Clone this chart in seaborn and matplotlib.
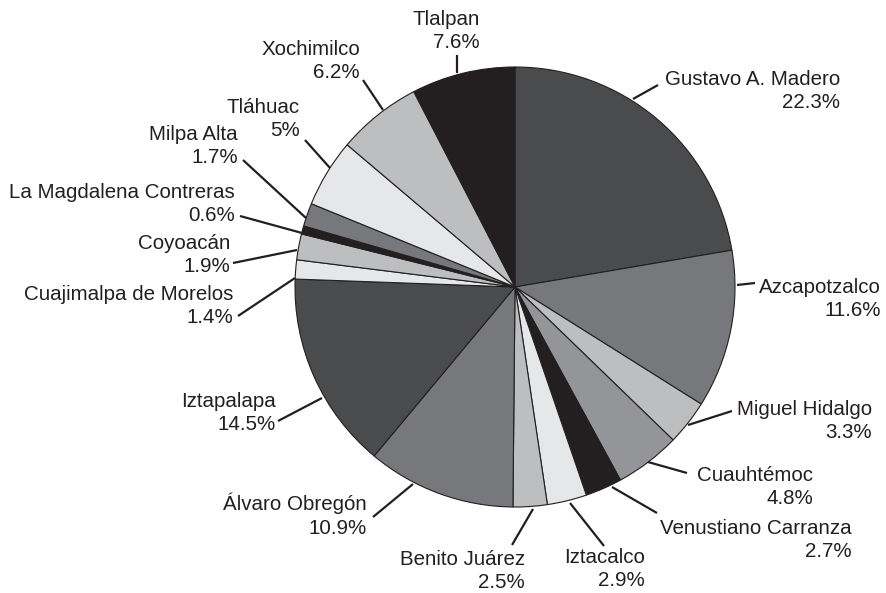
import matplotlib
matplotlib.use('Agg')
import matplotlib.pyplot as plt
import seaborn as sns

# Datos: participación por alcaldía (%)
alcaldias = ["Gustavo A. Madero", "Azcapotzalco", "Miguel Hidalgo", "Cuauhtémoc",
             "Venustiano Carranza", "Iztacalco", "Benito Juárez", "Álvaro Obregón",
             "Iztapalapa", "Cuajimalpa de Morelos", "Coyoacán", "La Magdalena Contreras",
             "Milpa Alta", "Tláhuac", "Xochimilco", "Tlalpan"]
porcentajes = [22.3, 11.6, 3.3, 4.8, 2.7, 2.9, 2.5, 10.9,
               14.5, 1.4, 1.9, 0.6, 1.7, 5, 6.2, 7.6]
etiquetas_pct = ["22.3%", "11.6%", "3.3%", "4.8%", "2.7%", "2.9%", "2.5%", "10.9%",
                 "14.5%", "1.4%", "1.9%", "0.6%", "1.7%", "5%", "6.2%", "7.6%"]

# Estilo
NEGRO, OSCURO, MEDIO, MEDIO_CLARO, CLARO, BLANCO = (
    "#231f20", "#4a4b4d", "#77787b", "#939598", "#bcbec0", "#e6e7e8")
colores = [OSCURO, MEDIO, CLARO, MEDIO_CLARO, NEGRO, BLANCO, CLARO, MEDIO,
           OSCURO, BLANCO, CLARO, NEGRO, MEDIO, BLANCO, CLARO, NEGRO]

W, H = 886, 593
CENTRO = (515, 287)
RADIO = 220

# Posición de etiquetas en píxeles: borde derecho del texto, parte superior
pos_texto = [(840, 70), (881, 278), (872, 400), (813, 466), (852, 519), (645, 548),
             (525, 550), (367, 493), (276, 392), (233, 285), (230, 234), (235, 183),
             (238, 125), (300, 98), (360, 40), (480, 10)]
# Líneas guía (x0, y0, x1, y1) en píxeles
guias = [(633, 99, 658, 85), (737, 285, 755, 283), (688, 425, 732, 411),
         (648, 462, 687, 473), (612, 487, 657, 513), (570, 503, 604, 546),
         (533, 509, 512, 545), (413, 484, 373, 517), (322, 398, 278, 421),
         (295, 278, 238, 316), (297, 250, 233, 263), (302, 233, 240, 216),
         (306, 218, 243, 160), (330, 168, 305, 140), (383, 110, 363, 80),
         (457, 73, 457, 55)]


def py(y):
    return H - y


sns.set_theme(style="white")
plt.rcParams['font.family'] = ['Liberation Sans', 'DejaVu Sans']

fig = plt.figure(figsize=(W / 100, H / 100), dpi=100)
ax = fig.add_axes([0, 0, 1, 1])

ax.pie(porcentajes, colors=colores, startangle=90, counterclock=False,
       center=(CENTRO[0], py(CENTRO[1])), radius=RADIO,
       wedgeprops=dict(edgecolor=NEGRO, linewidth=0.8), frame=True)
ax.set_xlim(0, W)
ax.set_ylim(0, H)
ax.axis('off')

for nombre, pct, (tx, ty), (x0, y0, x1, y1) in zip(alcaldias, etiquetas_pct, pos_texto, guias):
    ax.plot([x0, x1], [py(y0), py(y1)], color=NEGRO, lw=1.6, solid_capstyle='butt')
    ax.text(tx, py(ty), f"{nombre}\n{pct}", ha='right', va='top',
            multialignment='right', fontsize=14.8, color=NEGRO, linespacing=1.27)

fig.savefig("out.png", dpi=100)
